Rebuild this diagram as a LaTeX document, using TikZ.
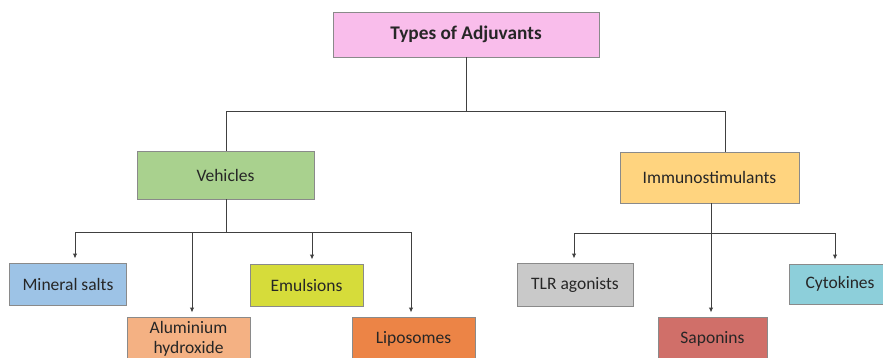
\documentclass[tikz,border=0pt]{standalone}
\usepackage{fontspec}
\setmainfont{Carlito}
\usetikzlibrary{arrows.meta}
\definecolor{cTitle}{HTML}{F9BDEB}
\definecolor{cVeh}{HTML}{A9D18E}
\definecolor{cImm}{HTML}{FFD47F}
\definecolor{cMin}{HTML}{9DC3E6}
\definecolor{cAlu}{HTML}{F4B183}
\definecolor{cEmu}{HTML}{D6DC3A}
\definecolor{cLip}{HTML}{EC8446}
\definecolor{cTLR}{HTML}{C9C9C9}
\definecolor{cSap}{HTML}{D06F69}
\definecolor{cCyt}{HTML}{8DCFDA}
\definecolor{cLine}{HTML}{404040}
\definecolor{cEdge}{HTML}{8A8A8A}
\definecolor{cText}{HTML}{262626}
\tikzset{
  box/.style={draw=cEdge, line width=0.9pt, inner sep=0pt, align=center, text=cText,
              font=\fontsize{17.5}{19.5}\selectfont},
  conn/.style={draw=cLine, line width=1pt},
  arr/.style={conn, -{Latex[length=5pt,width=4.5pt]}, shorten >=4pt}
}
\begin{document}
\begin{tikzpicture}[x=1pt,y=-1pt]
\useasboundingbox (0,0) rectangle (883,358);
\clip (0,0) rectangle (883,358);
% boxes
\node[box, fill=cTitle, minimum width=266pt, minimum height=45pt, font=\fontsize{19.3}{22}\bfseries\selectfont] (title) at (466,34.5) {Types of Adjuvants};
\node[box, fill=cVeh, minimum width=177pt, minimum height=48pt] (veh) at (225.5,175) {Vehicles};
\node[box, fill=cImm, minimum width=179pt, minimum height=51pt] (imm) at (709.5,177.5) {Immunostimulants};
\node[box, fill=cMin, minimum width=117pt, minimum height=42pt] (min) at (68,284) {Mineral salts};
\node[box, fill=cAlu, minimum width=123pt, minimum height=44pt] (alu) at (188.5,339) {Aluminium\\hydroxide};
\node[box, fill=cEmu, minimum width=113pt, minimum height=42pt] (emu) at (306.5,285) {Emulsions};
\node[box, fill=cLip, minimum width=123pt, minimum height=44pt] (lip) at (413.5,339) {Liposomes};
\node[box, fill=cTLR, minimum width=116pt, minimum height=43pt] (tlr) at (575,284.5) {TLR agonists};
\node[box, fill=cSap, minimum width=109pt, minimum height=44pt] (sap) at (712.5,339) {Saponins};
\node[box, fill=cCyt, minimum width=102pt, minimum height=40pt] (cyt) at (840,284) {Cytokines};
% junctions
\coordinate (j1) at (466,112);
\coordinate (jv) at (226,232);
\coordinate (ji) at (711,233);
% top level
\draw[conn] (title.south) -- (j1);
\draw[conn] (j1) -| ([xshift=0.5pt]veh.north);
\draw[conn] (j1) -| ([xshift=15.5pt]imm.north);
% vehicles
\draw[conn] ([xshift=0.5pt]veh.south) -- (jv);
\draw[arr] (jv) -| ([xshift=7pt]min.north);
\draw[arr] ([xshift=3.5pt]alu.north |- jv) -- ([xshift=3.5pt]alu.north);
\draw[arr] ([xshift=5.5pt]emu.north |- jv) -- ([xshift=5.5pt]emu.north);
\draw[arr] (jv) -| ([xshift=-2.5pt]lip.north);
% immunostimulants
\draw[conn] ([xshift=1.5pt]imm.south) -- (ji);
\draw[arr] (ji) -| ([xshift=-1pt]tlr.north);
\draw[arr] (ji) -- ([xshift=-1.5pt]sap.north);
\draw[arr] (ji) -| ([xshift=-5pt]cyt.north);
\end{tikzpicture}
\end{document}
